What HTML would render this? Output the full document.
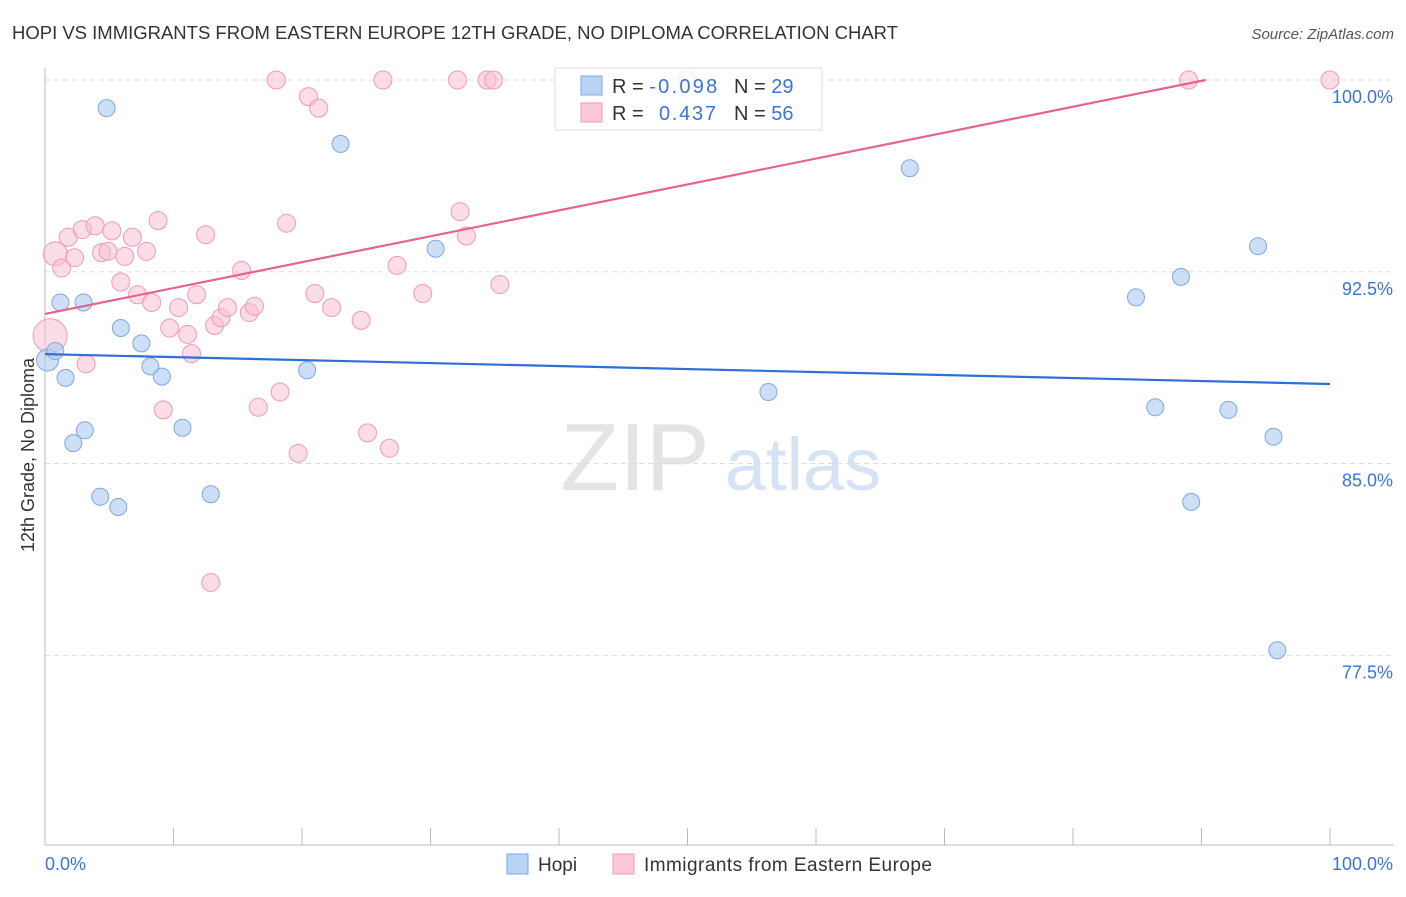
<!DOCTYPE html>
<html><head><meta charset="utf-8"><style>
body{margin:0;background:#fff;font-family:"Liberation Sans",sans-serif}
svg text{font-family:"Liberation Sans",sans-serif}
</style></head><body>
<svg id="chart" width="1406" height="892" xmlns="http://www.w3.org/2000/svg">
<text x="12" y="39" font-size="18" fill="#333" textLength="886" lengthAdjust="spacingAndGlyphs">HOPI VS IMMIGRANTS FROM EASTERN EUROPE 12TH GRADE, NO DIPLOMA CORRELATION CHART</text>
<text x="1394" y="39" font-size="15" fill="#555" text-anchor="end" font-style="italic">Source: ZipAtlas.com</text>
<text transform="translate(34,455) rotate(-90)" font-size="18" fill="#333" text-anchor="middle">12th Grade, No Diploma</text>
<g><text x="635" y="490" font-size="96" fill="#e4e4e4" text-anchor="middle" font-family="Liberation Serif,serif">ZIP</text><text x="803" y="490" font-size="74" fill="#d6e3f5" text-anchor="middle">atlas</text></g>
<g id="grid"></g><g id="axes"></g><g id="marks"></g>
<g>
<rect x="555" y="68" width="267" height="62" fill="#fff" fill-opacity="0.85" stroke="#ddd"/>
<rect x="581" y="76" width="21" height="19" fill="#b9d3f5" stroke="#7fa8e0"/>
<rect x="581" y="103" width="21" height="19" fill="#fbc8d8" stroke="#f09ab6"/>
<text x="612" y="93" font-size="20" fill="#333">R = <tspan fill="#3b74d4" textLength="68">-0.098</tspan></text>
<text x="734" y="93" font-size="20" fill="#333">N = <tspan fill="#3b74d4">29</tspan></text>
<text x="612" y="120" font-size="20" fill="#333">R = </text><text x="659" y="120" font-size="20" fill="#3b74d4" textLength="57">0.437</text>
<text x="734" y="120" font-size="20" fill="#333">N = <tspan fill="#3b74d4">56</tspan></text>
</g>
<g>
<rect x="507" y="854" width="21" height="20" fill="#b9d3f5" stroke="#7fa8e0"/><text x="538" y="871" font-size="19" fill="#333">Hopi</text>
<rect x="613" y="854" width="21" height="20" fill="#fbc8d8" stroke="#f09ab6"/><text x="644" y="871" font-size="19" fill="#333" textLength="288">Immigrants from Eastern Europe</text>
</g>
</svg>
<script>
const yTicks=[100,92.5,85,77.5];
const yTickLabels=["100.0%","92.5%","85.0%","77.5%"];
const xTickLabels=["0.0%","100.0%"];
const hopiX=[0.2,0.8,1.2,3.0,1.6,4.8,5.9,7.5,8.2,9.1,3.1,2.2,10.7,4.3,5.7,12.9,20.4,23.0,30.4,56.3,67.3,84.9,88.4,86.4,92.1,94.4,95.6,89.2,95.9];
const hopiY=[89.05,89.4,91.3,91.3,88.35,98.9,90.3,89.7,88.8,88.4,86.3,85.8,86.4,83.7,83.3,83.8,88.65,97.5,93.4,87.8,96.55,91.5,92.3,87.2,87.1,93.5,86.05,83.5,77.7];
const immX=[0.4,0.8,1.3,1.8,2.3,2.9,3.9,4.4,4.9,5.2,6.2,5.9,6.8,7.9,7.2,8.3,8.8,9.7,10.4,11.1,11.4,11.8,12.5,13.2,13.7,14.2,15.3,15.9,16.3,16.6,9.2,3.2,18.3,18.8,18.0,20.5,21.3,21.0,19.7,22.3,24.6,25.1,26.3,26.8,27.4,29.4,32.3,32.8,32.1,34.4,34.9,35.4,12.9,89.0,100,50.0];
const immY=[90.0,93.2,92.65,93.85,93.05,94.15,94.3,93.25,93.3,94.1,93.1,92.1,93.85,93.3,91.6,91.3,94.5,90.3,91.1,90.05,89.3,91.6,93.95,90.4,90.7,91.1,92.55,90.9,91.15,87.2,87.1,88.9,87.8,94.4,100,99.35,98.9,91.65,85.4,91.1,90.6,86.2,100,85.6,92.75,91.65,94.85,93.9,100,100,100,92.0,80.35,100,100,100];
const hopiTrend=[89.28,88.11];
const immTrend=[90.85,0.1013];
const X=v=>45+v*12.85, Y=v=>80+(100-v)*25.57;
const NS="http://www.w3.org/2000/svg";
function mk(tag,parent,attrs){const e=document.createElementNS(NS,tag);for(const k in attrs)e.setAttribute(k,attrs[k]);document.getElementById(parent).appendChild(e);return e;}
yTicks.forEach((t,i)=>{
 const l=mk('line','grid',{x1:45,x2:1394,y1:Y(t),y2:Y(t),stroke:'#ddd','stroke-dasharray':'5,4'});
 
 
 const tx=mk('text','axes',{x:1393,y:Y(t)+23,'font-size':18,fill:'#3b74d4','text-anchor':'end'});tx.textContent=yTickLabels[i];
 
 
});
const ax=mk('line','axes',{x1:45,x2:1394,y1:845,y2:845,stroke:'#bbb'});


const ay=mk('line','axes',{x1:45,x2:45,y1:68,y2:845,stroke:'#bbb'});


for(let i=0;i<=10;i++){const t=mk('line','axes',{x1:X(i*10),x2:X(i*10),y1:828,y2:845,stroke:'#bbb'});
 
 }
[[0,'start',45],[100,'end',1393]].forEach((d,i)=>{const t=mk('text','axes',{x:d[2],y:870,'font-size':18,fill:'#3b74d4','text-anchor':d[1]});t.textContent=xTickLabels[i];
 
 });
immX.forEach((x,i)=>{const r=i==0?17:(i==1?12:9);const c=mk('circle','marks',{cx:X(x),cy:Y(immY[i]),r:r,fill:'#f9bfd1','fill-opacity':0.55,stroke:'#f09ab6','stroke-width':1});
 
 });
hopiX.forEach((x,i)=>{const c=mk('circle','marks',{cx:X(x),cy:Y(hopiY[i]),r:i==0?11:8.5,fill:'#b2cef3','fill-opacity':0.65,stroke:'#7fa8e0','stroke-width':1});
 
 });
const bl=mk('line','marks',{x1:X(0),y1:Y(hopiTrend[0]),x2:X(100),y2:Y(hopiTrend[1]),stroke:'#2f6fd6','stroke-width':2.2});


const xe=(100-immTrend[0])/immTrend[1];
const pl=mk('line','marks',{x1:X(0),y1:Y(immTrend[0]),x2:X(xe),y2:Y(100),stroke:'#e8628e','stroke-width':2.2});


</script>
</body></html>
